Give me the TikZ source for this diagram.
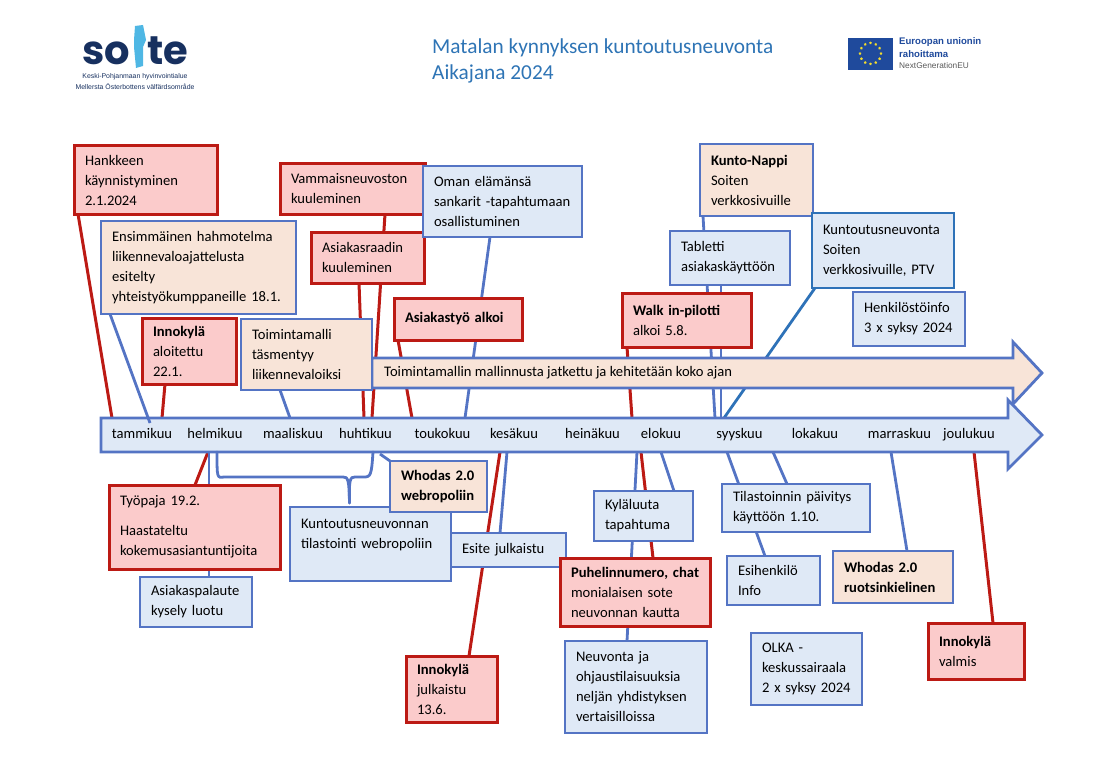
\documentclass[tikz,border=0pt]{standalone}
\usepackage{fontspec}
\setmainfont{Carlito}
\newfontfamily\logofont{Poppins}
\newfontfamily\smallfont{Liberation Sans}
\usetikzlibrary{shapes.geometric,calc}
\pgfdeclarelayer{background}
\pgfsetlayers{background,main}
\definecolor{redline}{HTML}{BC1A14}
\definecolor{redfill}{HTML}{FBCBCB}
\definecolor{blueedge}{HTML}{5474C4}
\definecolor{bluefill}{HTML}{DFE9F6}
\definecolor{peachfill}{HTML}{F8E4D8}
\definecolor{ptvedge}{HTML}{2E72B8}
\definecolor{titleblue}{HTML}{2E74B5}
\definecolor{soitenavy}{HTML}{17305F}
\definecolor{soitesky}{HTML}{4FB7E4}
\definecolor{eublue}{HTML}{1F4A9C}
\definecolor{euyellow}{HTML}{F2DC2E}
\tikzset{
    boxsize/.style 2 args={minimum width=#1, minimum height=#2, text width=#1pt-22pt},
    basebox/.style={anchor=north west, rectangle, inner xsep=11pt, inner ysep=0pt, outer sep=0pt,
        align=left, text=black, font=\fontsize{14.6}{20}\selectfont},
    redbox/.style={basebox, draw=redline, fill=redfill, line width=3pt},
    bluebox/.style={basebox, draw=blueedge, fill=bluefill, line width=2.8pt},
    peachbox/.style={basebox, draw=blueedge, fill=peachfill, line width=2.8pt},
    monthnode/.style={minimum height=34pt, inner sep=0pt, outer sep=0pt, text height=10pt, text depth=3pt,
        font=\fontsize{14.6}{20}\selectfont},
    redlink/.style={draw=redline, line width=3pt},
    bluelink/.style={draw=blueedge, line width=2.8pt},
    ptvlink/.style={draw=ptvedge, line width=2.8pt},
    arrowband/.style={draw=blueedge, line width=2.8pt, line join=miter}
}
\begin{document}
\begin{tikzpicture}[x=1pt, y=-1pt]
    \useasboundingbox (0,0) rectangle (1100,773);

    % logo
    \fill[soitesky] (135,26) -- (143,25) -- (146,40) -- (143,47) -- (143,66) -- (136,68) -- (134,47) -- (134,40) -- cycle;
    \node[anchor=base east, inner sep=0pt, text depth=0pt, font=\logofont\bfseries\fontsize{40}{40}\selectfont, text=soitenavy] (soiteso) at (130,65) {so};
    \node[anchor=base west, inner sep=0pt, text depth=0pt, font=\logofont\bfseries\fontsize{40}{40}\selectfont, text=soitenavy] (soitete) at (147,65) {te};
    \node[inner sep=0pt, font=\smallfont\fontsize{6.9}{8}\selectfont, text=soitenavy] (soitefi) at (135,77) {Keski-Pohjanmaan hyvinvointialue};
    \node[inner sep=0pt, font=\smallfont\fontsize{6.9}{8}\selectfont, text=soitenavy] (soitesv) at (135,87) {Mellersta Österbottens välfärdsområde};

    % otsikko
    \node[anchor=west, inner sep=0pt, font=\fontsize{21.3}{26}\selectfont, text=titleblue] (otsikko) at (432,48) {Matalan kynnyksen kuntoutusneuvonta};
    \node[anchor=west, inner sep=0pt, font=\fontsize{21.3}{26}\selectfont, text=titleblue] (aikajana) at (432,74) {Aikajana 2024};

    % EU
    \fill[eublue] (848,38) rectangle (893,70);
    \foreach \a in {0,30,...,330}
        \node[star, star points=5, fill=euyellow, inner sep=0pt, minimum size=3pt] (eustar\a) at ($(870.5,53.5)+(\a:10.5)$) {};
    \node[anchor=west, inner sep=0pt, font=\smallfont\bfseries\fontsize{9.6}{12}\selectfont, text=eublue] (eufi) at (899,42) {Euroopan unionin};
    \node[anchor=west, inner sep=0pt, font=\smallfont\bfseries\fontsize{9.6}{12}\selectfont, text=eublue] (eura) at (899,54) {rahoittama};
    \node[anchor=west, inner sep=0pt, font=\smallfont\fontsize{8.3}{12}\selectfont, text=black!65] (eung) at (899,66) {NextGenerationEU};

    % nuolet
    \draw[arrowband, fill=peachfill] (372,358) -- (1013,358) -- (1013,342) -- (1042,373) -- (1013,404) -- (1013,388) -- (372,388) -- cycle;
    \draw[arrowband, fill=bluefill] (101,418) -- (1008,418) -- (1008,400) -- (1042,435) -- (1008,469) -- (1008,452) -- (101,452) -- cycle;
    \node[anchor=west, inner sep=0pt, font=\fontsize{14.6}{20}\selectfont] (mallinnus) at (384,372.5) {Toimintamallin mallinnusta jatkettu ja kehitetään koko ajan};

    % kuukaudet
    \node[monthnode] (tammikuu) at (142,435) {tammikuu};
    \node[monthnode] (helmikuu) at (215,435) {helmikuu};
    \node[monthnode] (maaliskuu) at (293,435) {maaliskuu};
    \node[monthnode] (huhtikuu) at (365.5,435) {huhtikuu};
    \node[monthnode] (toukokuu) at (442.5,435) {toukokuu};
    \node[monthnode] (kesakuu) at (514,435) {kesäkuu};
    \node[monthnode] (heinakuu) at (592.5,435) {heinäkuu};
    \node[monthnode] (elokuu) at (661,435) {elokuu};
    \node[monthnode] (syyskuu) at (739.5,435) {syyskuu};
    \node[monthnode] (lokakuu) at (815,435) {lokakuu};
    \node[monthnode] (marraskuu) at (899.5,435) {marraskuu};
    \node[monthnode] (joulukuu) at (969,435) {joulukuu};

    % laatikot ylhaalla
    \node[redbox, boxsize={143}{68}] (hankkeen) at (74,146) {Hankkeen\\käynnistyminen\\2.1.2024};
    \node[peachbox, boxsize={195}{93}] (hahmotelma) at (101,221) {Ensimmäinen hahmotelma\\liikennevaloajattelusta\\esitelty\\yhteistyökumppaneille 18.1.};
    \node[redbox, boxsize={94}{66}] (aloitettu) at (142,318) {\textbf{Innokylä}\\aloitettu\\22.1.};
    \node[peachbox, boxsize={131}{71}] (liikennevalot) at (241,319) {Toimintamalli\\täsmentyy\\liikennevaloiksi};
    \node[redbox, boxsize={145}{51}] (vammais) at (280,163) {Vammaisneuvoston\\kuuleminen};
    \node[redbox, boxsize={113}{51}] (raati) at (311,232) {Asiakasraadin\\kuuleminen};
    \node[bluebox, boxsize={159}{71}] (sankarit) at (423,166) {Oman elämänsä\\sankarit -tapahtumaan\\osallistuminen};
    \node[redbox, boxsize={128}{42}] (asiakastyo) at (394,298) {\textbf{Asiakastyö alkoi}\\[6pt]};
    \node[peachbox, boxsize={113}{72}] (kuntonappi) at (700,144) {\textbf{Kunto-Nappi}\\Soiten\\verkkosivuille};
    \node[bluebox, boxsize={120}{54}] (tabletti) at (670,231) {Tabletti\\asiakaskäyttöön};
    \node[bluebox, draw=ptvedge, boxsize={142}{75}] (ptv) at (812,213) {Kuntoutusneuvonta\\Soiten\\verkkosivuille, PTV};
    \node[bluebox, boxsize={112}{54}] (henkilosto) at (853,292) {Henkilöstöinfo\\3 x syksy 2024};
    \node[redbox, boxsize={129}{54}] (walkin) at (622,293) {\textbf{Walk in-pilotti}\\alkoi 5.8.};

    % laatikot alhaalla
    \node[redbox, boxsize={171}{84}] (tyopaja) at (109,485) {Työpaja 19.2.\\[10pt]Haastateltu\\kokemusasiantuntijoita};
    \node[bluebox, boxsize={112}{50}] (palaute) at (140,577) {Asiakaspalaute\\kysely luotu};
    \node[bluebox, boxsize={161}{74}] (tilastointi) at (290,507) {Kuntoutusneuvonnan\\tilastointi webropoliin\\\mbox{}};
    \node[peachbox, boxsize={97}{51}] (webropol) at (390,461) {\textbf{Whodas 2.0}\\\textbf{webropoliin}};
    \node[bluebox, boxsize={115}{34}] (esite) at (451,533) {Esite julkaistu};
    \node[redbox, boxsize={91}{66}] (julkaistu) at (406,656) {\textbf{Innokylä}\\julkaistu\\13.6.};
    \node[bluebox, boxsize={99}{50}] (kylaluuta) at (594,491) {Kyläluuta\\tapahtuma};
    \node[redbox, boxsize={150}{68}] (puhelin) at (560,558) {\mbox{\textbf{Puhelinnumero, chat}}\\monialaisen sote\\neuvonnan kautta};
    \node[bluebox, boxsize={142}{92}] (neuvonta) at (565,641) {Neuvonta ja\\ohjaustilaisuuksia\\neljän yhdistyksen\\vertaisilloissa};
    \node[bluebox, boxsize={148}{48}] (paivitys) at (722,484) {Tilastoinnin päivitys\\käyttöön 1.10.};
    \node[bluebox, boxsize={93}{49}] (esihenkilo) at (727,556) {Esihenkilö\\Info};
    \node[peachbox, boxsize={120}{52}] (ruotsi) at (833,551) {\textbf{Whodas 2.0}\\\textbf{ruotsinkielinen}};
    \node[bluebox, boxsize={111}{72}] (olka) at (751,633) {OLKA -\\keskussairaala\\2 x syksy 2024};
    \node[redbox, boxsize={96}{56}] (valmis) at (928,623) {\textbf{Innokylä}\\valmis};

    \draw[bluelink] ([xshift=9]hahmotelma.south west) -- ([xshift=8,yshift=-5]tammikuu.north);

    \begin{pgfonlayer}{background}
        % viivat ylos
        \draw[redlink] ([xshift=4]hankkeen.south west) -- ([xshift=-30]tammikuu.north);
        \draw[redlink] ([xshift=23]aloitettu.south west) -- ([xshift=20]tammikuu.north);
        \draw[bluelink] ([xshift=39]liikennevalot.south west) -- ([xshift=-3]maaliskuu.north);
        \draw[redlink] ([xshift=105]vammais.south west) -- ([xshift=6.5]huhtikuu.north);
        \draw[redlink] ([xshift=48]raati.south west) -- ([xshift=-1.5]huhtikuu.north);
        \draw[bluelink] ([xshift=67]sankarit.south west) -- ([xshift=22.5]toukokuu.north);
        \draw[redlink] ([xshift=4]asiakastyo.south west) -- ([xshift=-30.5]toukokuu.north);
        \draw[redlink] ([xshift=5]walkin.south west) -- ([xshift=-29]elokuu.north);
        \draw[bluelink] ([xshift=3]kuntonappi.south west) -- ([xshift=-24.5]syyskuu.north);
        \draw[bluelink] ([xshift=51]tabletti.south west) -- ([xshift=-18.5]syyskuu.north);
        \draw[ptvlink] ([xshift=3]ptv.south west) -- ([xshift=-15.5]syyskuu.north);
        % viivat alas
        \draw[redlink] ([xshift=86]tyopaja.north west) -- ([xshift=-7]helmikuu.south);
        \draw[bluelink] ([xshift=69]palaute.north west) -- ([xshift=-6]helmikuu.south);
        \draw[bluelink] (webropol.north west) -- ([xshift=14.5,yshift=-2]huhtikuu.south);
        \draw[bluelink] ([xshift=49]esite.north west) -- ([xshift=-7]kesakuu.south);
        \draw[redlink] ([xshift=63]julkaistu.north west) -- ([xshift=-14]kesakuu.south);
        \draw[bluelink] ([xshift=80]kylaluuta.north west) -- (elokuu.south);
        \draw[redlink] ([xshift=93]puhelin.north west) -- ([xshift=-20]elokuu.south);
        \draw[bluelink] ([xshift=62]neuvonta.north west) -- ([xshift=-24]elokuu.south);
        \draw[bluelink] ([xshift=65]paivitys.north west) -- ([xshift=33.5]syyskuu.south);
        \draw[bluelink] ([xshift=38]esihenkilo.north west) -- ([xshift=-12.5]syyskuu.south);
        \draw[bluelink] ([xshift=74]ruotsi.north west) -- ([xshift=-8.5]marraskuu.south);
        \draw[redlink] ([xshift=65]valmis.north west) -- ([xshift=5]joulukuu.south);
    \end{pgfonlayer}

    % kaari
    \coordinate (kaarijuuri) at ([xshift=-21,yshift=4]tilastointi.north);
    \draw[bluelink, line cap=round] ([xshift=2]helmikuu.south) .. controls ([xshift=2,yshift=-26]helmikuu.south) and ([xshift=2,yshift=-26]helmikuu.south) .. ([xshift=9,yshift=-25]helmikuu.south) -- (343,477) .. controls (348,477) and (349,479) .. (kaarijuuri);
    \draw[bluelink, line cap=round] ([xshift=7.5]huhtikuu.south) .. controls ([xshift=6,yshift=-24]huhtikuu.south) and ([xshift=5,yshift=-25]huhtikuu.south) .. ([xshift=-2,yshift=-25]huhtikuu.south) -- (355,477) .. controls (350,477) and (349,479) .. (kaarijuuri);
\end{tikzpicture}
\end{document}
